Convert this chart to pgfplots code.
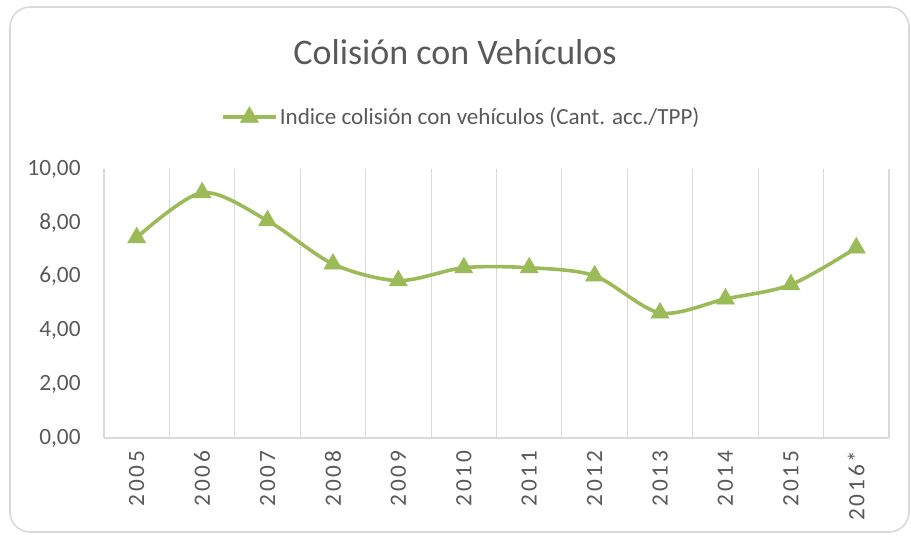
\documentclass[border=0pt]{standalone}
\usepackage{fontspec}
\setmainfont{Carlito}
\newfontfamily\spaced{Carlito}[LetterSpace=12]
\usepackage{pgfplots}
\pgfplotsset{compat=1.18}
\definecolor{lgreen}{HTML}{9BBB59}
\definecolor{txt}{HTML}{595959}
\definecolor{grd}{HTML}{D9D9D9}
\begin{document}
\begin{tikzpicture}[x=0.75pt,y=0.75pt]
\useasboundingbox (0,0) rectangle (911,536);
\clip (0,0) rectangle (911,536);
\draw[grd, line width=1.2pt, rounded corners=15pt] (10,4) rectangle (909,529);
\node[txt, font=\fontsize{27}{30}\selectfont] at (455,484) {Colisión con Vehículos};
\begin{axis}[
  at={(78pt,73.5pt)}, anchor=south west, scale only axis,
  width=588.75pt, height=201.75pt,
  xmin=-0.5, xmax=11.5, ymin=0, ymax=10,
  xtick={0,...,11},
  xticklabels={2005,2006,2007,2008,2009,2010,2011,2012,2013,2014,2015,2016*},
  minor xtick={-0.5,0.5,...,11.5},
  xminorgrids=true,
  minor grid style={grd, line width=0.8pt},
  major grid style={grd, line width=0.8pt},
  major tick length=0pt, minor tick length=0pt,
  ytick={0,2,...,10},
  extra y ticks={0}, extra y tick labels={},
  extra y tick style={grid=major},
  axis line style={draw=none},
  /pgf/number format/fixed,
  /pgf/number format/fixed zerofill,
  /pgf/number format/precision=2,
  /pgf/number format/use comma,
  /pgf/number format/assume math mode=true,
  yticklabel style={font=\fontsize{17.5}{19}\selectfont, text=txt},
  yticklabel shift=14pt,
  xticklabel style={rotate=90, anchor=east, font=\spaced\fontsize{17.5}{19}\selectfont, text=txt},
  xticklabel shift=6pt,
  legend style={at={(0.456,1.193)}, anchor=center, draw=none, fill=none,
    font=\fontsize{17.3}{20}\selectfont, text=txt},
  legend image code/.code={\draw[#1, mark repeat=2, mark phase=2] plot coordinates {(0pt,0pt) (19.5pt,0pt) (39pt,0pt)};},
  clip=false,
]
\addplot[lgreen, line width=2.7pt, smooth, mark=triangle*, mark size=7.8pt,
  mark options={line width=0.4pt, fill=lgreen, draw=lgreen}]
  coordinates {(0,7.45) (1,9.12) (2,8.08) (3,6.47) (4,5.85) (5,6.33) (6,6.33) (7,6.03) (8,4.65) (9,5.17) (10,5.70) (11,7.07)};
\addlegendentry{Indice colisión con vehículos (Cant. acc./TPP)}
\end{axis}
\end{tikzpicture}
\end{document}
